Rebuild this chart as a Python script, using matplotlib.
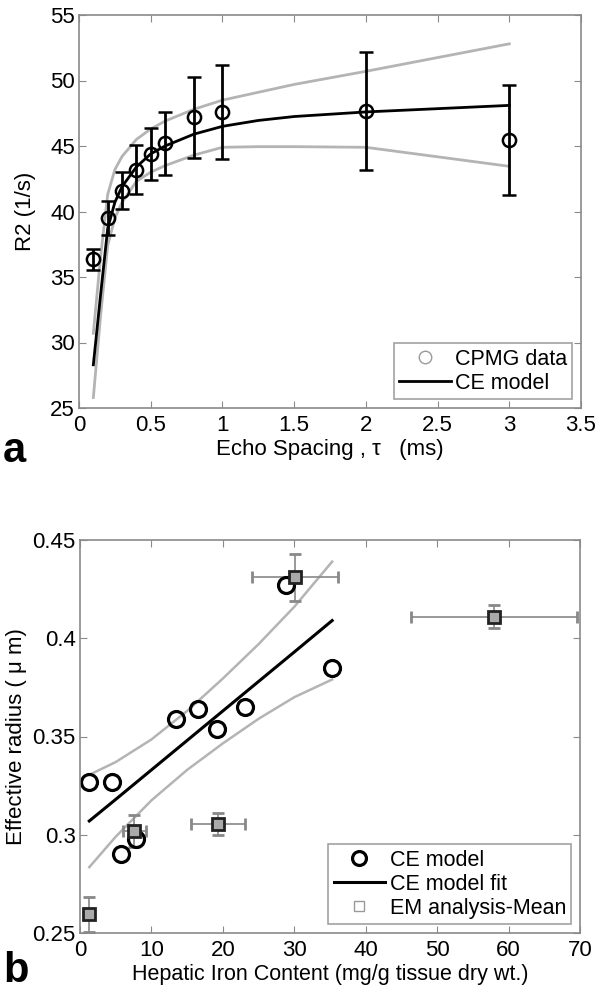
import matplotlib
matplotlib.use("Agg")
import matplotlib.pyplot as plt
from matplotlib.lines import Line2D

plt.rcParams["font.family"] = ["Liberation Sans", "DejaVu Sans"]

# panel a: CPMG data and CE model
tau = [0.1, 0.2, 0.3, 0.4, 0.5, 0.6, 0.8, 1.0, 2.0, 3.0]
r2 = [36.35, 39.5, 41.6, 43.2, 44.4, 45.2, 47.2, 47.6, 47.65, 45.45]
r2_err = [0.8, 1.3, 1.4, 1.9, 2.0, 2.4, 3.1, 3.6, 4.5, 4.2]

tau_fit = [0.1, 0.15, 0.2, 0.25, 0.3, 0.4, 0.5, 0.6, 0.8, 1.0, 1.25, 1.5, 2.0, 3.0]
r2_fit = [28.3, 33.6, 38.7, 40.7, 41.9, 43.4, 44.4, 45.0, 45.9, 46.5, 46.95, 47.25, 47.6, 48.1]
r2_upper = [30.7, 36.5, 41.3, 43.2, 44.2, 45.5, 46.3, 46.9, 47.8, 48.5, 49.1, 49.7, 50.7, 52.8]
r2_lower = [25.8, 32.0, 37.4, 39.5, 40.7, 42.3, 43.0, 43.5, 44.3, 44.9, 44.95, 44.95, 44.9, 43.45]

a_xticks = [0, 0.5, 1, 1.5, 2, 2.5, 3, 3.5]
a_xticklabels = ["0", "0.5", "1", "1.5", "2", "2.5", "3", "3.5"]
a_yticks = [25, 30, 35, 40, 45, 50, 55]

# panel b: effective radius vs hepatic iron content
hic_ce = [1.3, 4.5, 5.8, 7.8, 13.4, 16.5, 19.2, 23.1, 28.8, 35.3]
radius_ce = [0.327, 0.327, 0.290, 0.298, 0.359, 0.364, 0.354, 0.365, 0.427, 0.385]

hic_fit = [1.3, 5, 10, 15, 20, 25, 30, 35.3]
radius_fit = [0.307, 0.318, 0.333, 0.348, 0.363, 0.378, 0.393, 0.409]
radius_upper = [0.3305, 0.337, 0.3485, 0.363, 0.3795, 0.397, 0.416, 0.439]
radius_lower = [0.2835, 0.299, 0.3175, 0.333, 0.3465, 0.359, 0.370, 0.379]

hic_em = [1.3, 7.6, 19.3, 30.1, 58.0]
hic_em_err = [0.0, 1.6, 3.8, 6.0, 11.6]
radius_em = [0.2595, 0.302, 0.3055, 0.431, 0.411]
radius_em_err = [0.009, 0.008, 0.0055, 0.012, 0.006]

b_xticks = [0, 10, 20, 30, 40, 50, 60, 70]
b_yticks = [0.25, 0.3, 0.35, 0.4, 0.45]
b_yticklabels = ["0.25", "0.3", "0.35", "0.4", "0.45"]

GRAY = "#b4b4b4"
SPINE = "#8a8a8a"


def style_axes(ax):
    for spine in ax.spines.values():
        spine.set_color(SPINE)
        spine.set_linewidth(1.2)
    ax.tick_params(direction="in", length=5, color=SPINE, top=True, right=True,
                   labelsize=16)
    ax.tick_params(axis="x", pad=5)
    ax.tick_params(axis="y", pad=3)


fig = plt.figure(figsize=(6, 9.94), dpi=100)

# ---- panel a
ax1 = fig.add_axes([79 / 600, 1 - 408 / 994, 502 / 600, 393 / 994])
ax1.plot(tau_fit, r2_upper, color=GRAY, lw=2)
ax1.plot(tau_fit, r2_lower, color=GRAY, lw=2)
ax1.plot(tau_fit, r2_fit, color="black", lw=2)
ax1.errorbar(tau, r2, yerr=r2_err, fmt="o", color="black", mfc="none", ms=9.5,
             mew=1.8, elinewidth=2, capsize=5, capthick=2)
ax1.set_xlim(0, 3.5)
ax1.set_ylim(25, 55)
ax1.set_xticks(a_xticks)
ax1.set_xticklabels(a_xticklabels)
ax1.set_yticks(a_yticks)
style_axes(ax1)
ax1.set_xlabel("Echo Spacing , \u03c4   (ms)", fontsize=16, labelpad=2)
ax1.set_ylabel("R2 (1/s)", fontsize=16, labelpad=10)
handles_a = [
    Line2D([], [], ls="none", marker="o", ms=9, mfc="none", mec="#9a9a9a", mew=1),
    Line2D([], [], color="black", lw=2),
]
leg = ax1.legend(handles_a, ["CPMG data", "CE model"], loc="lower right",
                 fontsize=15.5, frameon=True, fancybox=False, edgecolor=SPINE,
                 handlelength=2.4, handletextpad=0.2, labelspacing=0.15,
                 borderpad=0.25, borderaxespad=0.4)
leg.get_frame().set_linewidth(1.2)
fig.text(0.005, 1 - 462 / 994, "a", fontsize=30, fontweight="bold")

# ---- panel b
ax2 = fig.add_axes([80 / 600, 1 - 933 / 994, 500 / 600, 393 / 994])
ax2.plot(hic_fit, radius_upper, color=GRAY, lw=1.8)
ax2.plot(hic_fit, radius_lower, color=GRAY, lw=1.8)
ax2.plot(hic_fit, radius_fit, color="black", lw=2.2)
ax2.errorbar(hic_em, radius_em, xerr=hic_em_err, yerr=radius_em_err, fmt="s",
             color="#888888", ms=8, mfc="#aaaaaa", mec="#222222", mew=2,
             elinewidth=1.2, capsize=4, capthick=1.2)
ax2.plot(hic_ce, radius_ce, "o", color="black", mfc="none", ms=11.5, mew=2.3)
ax2.set_xlim(0, 70)
ax2.set_ylim(0.25, 0.45)
ax2.set_xticks(b_xticks)
ax2.set_yticks(b_yticks)
ax2.set_yticklabels(b_yticklabels)
style_axes(ax2)
ax2.set_xlabel("Hepatic Iron Content (mg/g tissue dry wt.)", fontsize=15.5, labelpad=2)
ax2.set_ylabel("Effective radius ( \u03bc m)", fontsize=16, labelpad=4)
handles_b = [
    Line2D([], [], ls="none", marker="o", ms=10, mfc="none", mec="black", mew=2.3),
    Line2D([], [], color="black", lw=2.2),
    Line2D([], [], ls="none", marker="s", ms=7, mfc="none", mec="#9a9a9a", mew=1),
]
leg = ax2.legend(handles_b, ["CE model", "CE model fit", "EM analysis-Mean"],
                 loc="lower right", fontsize=15.5, frameon=True, fancybox=False,
                 edgecolor=SPINE, handlelength=2.4, handletextpad=0.2,
                 labelspacing=0.15, borderpad=0.25, borderaxespad=0.4)
leg.get_frame().set_linewidth(1.2)
fig.text(0.005, 1 - 982 / 994, "b", fontsize=30, fontweight="bold")

fig.savefig("out.png", dpi=100)
